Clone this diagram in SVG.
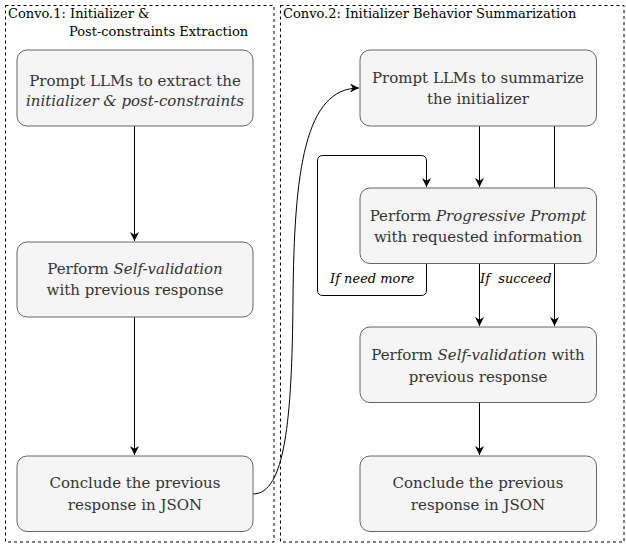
<svg xmlns="http://www.w3.org/2000/svg" width="626" height="544" viewBox="0 0 626 544">
<style>
.frame{fill:none;stroke:#000;stroke-width:1;stroke-dasharray:3 3}
.node rect{fill:#f5f5f5;stroke:#666;stroke-width:1}
.t{font-family:"DejaVu Serif",serif;font-size:15px;fill:#333;text-anchor:middle}
.ft{font-family:"DejaVu Serif",serif;font-size:13px;fill:#000}
.lbl{font-family:"DejaVu Serif",serif;font-size:13px;font-style:italic;fill:#000}
.i{font-style:italic}
.e{fill:none;stroke:#000;stroke-width:1}
</style>
<defs>
<marker id="ah" viewBox="0 0 10 10" refX="10" refY="5" markerWidth="9" markerHeight="9" markerUnits="userSpaceOnUse" orient="auto">
<path d="M0,0 L10,5 L0,10 L3,5 Z" fill="#000"/>
</marker>
</defs>
<g id="convo1">
<rect class="frame" x="5.500" y="5.500" width="268.500" height="536.500"/>
<text class="ft" x="8" y="18">Convo.1: Initializer &amp;</text>
<text class="ft" x="69" y="36">Post-constraints Extraction</text>
</g>
<g id="convo2">
<rect class="frame" x="280.500" y="5.500" width="343.500" height="536.500"/>
<text class="ft" x="283" y="18">Convo.2: Initializer Behavior Summarization</text>
</g>
<g id="edges">
<path class="e" d="M134.500,126 V241" marker-end="url(#ah)"/>
<path class="e" d="M134.500,317 V455" marker-end="url(#ah)"/>
<path class="e" d="M253,494 C285,494 292,420 293,300 C294,170 305,88 359,88" marker-end="url(#ah)"/>
<path class="e" d="M479.500,126 V187" marker-end="url(#ah)"/>
<path class="e" d="M554.500,126 V326" marker-end="url(#ah)"/>
<path class="e" d="M479.500,263 V326" marker-end="url(#ah)"/>
<path class="e" d="M426.500,263 V290 Q426.500,295.500 421,295.500 H323 Q317.500,295.500 317.500,290 V161 Q317.500,155.500 323,155.500 H421 Q426.500,155.500 426.500,161 V187" marker-end="url(#ah)"/>
<path class="e" d="M479.500,402 V455" marker-end="url(#ah)"/>
<text class="lbl" x="330" y="283">If need more</text>
<text class="lbl" x="480" y="283" xml:space="preserve">If  succeed</text>
</g>
<g id="n1" class="node">
<rect x="17" y="50" width="236" height="76" rx="10"/>
<text class="t" x="135" y="86">Prompt LLMs to extract the</text>
<text class="t i" x="135" y="106">initializer &amp; post-constraints</text>
</g>
<g id="n2" class="node">
<rect x="17" y="242" width="236" height="75" rx="10"/>
<text class="t" x="135" y="274">Perform <tspan class="i">Self-validation</tspan></text>
<text class="t" x="135" y="295">with previous response</text>
</g>
<g id="n3" class="node">
<rect x="17" y="456" width="236" height="75.500" rx="10"/>
<text class="t" x="135" y="488">Conclude the previous</text>
<text class="t" x="135" y="510">response in JSON</text>
</g>
<g id="m1" class="node">
<rect x="360" y="50" width="236.500" height="76" rx="10"/>
<text class="t" x="478" y="83">Prompt LLMs to summarize</text>
<text class="t" x="478" y="104">the initializer</text>
</g>
<g id="m2" class="node">
<rect x="360" y="188" width="236.500" height="75.500" rx="10"/>
<text class="t" x="478" y="221">Perform <tspan class="i">Progressive Prompt</tspan></text>
<text class="t" x="478" y="242">with requested information</text>
</g>
<g id="m3" class="node">
<rect x="360" y="327" width="236.500" height="75.500" rx="10"/>
<text class="t" x="478" y="360">Perform <tspan class="i">Self-validation</tspan> with</text>
<text class="t" x="478" y="382">previous response</text>
</g>
<g id="m4" class="node">
<rect x="360" y="456" width="236.500" height="75.500" rx="10"/>
<text class="t" x="478" y="488">Conclude the previous</text>
<text class="t" x="478" y="510">response in JSON</text>
</g>
</svg>
